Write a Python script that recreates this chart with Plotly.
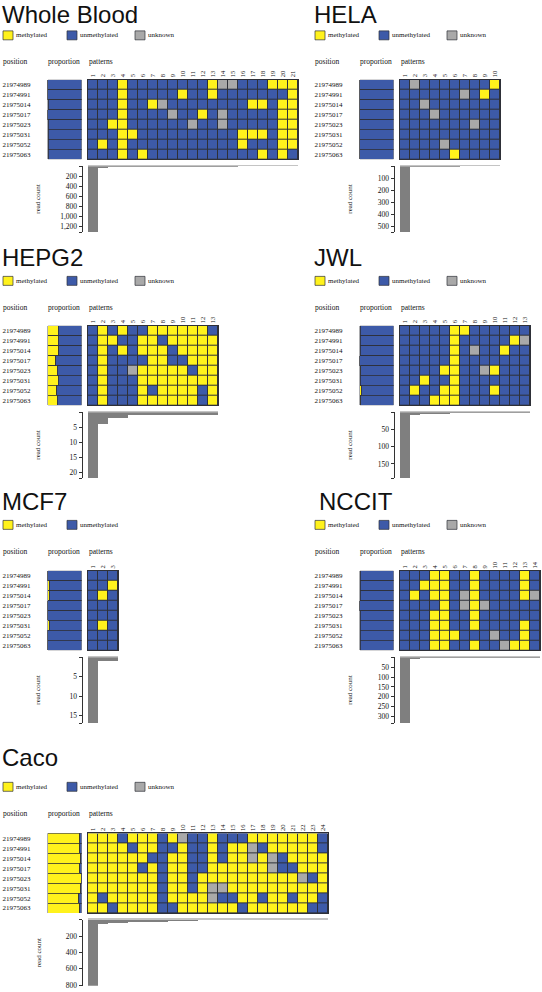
import plotly.graph_objects as go

W, H = 542, 992

positions = ["21974989", "21974991", "21975014", "21975017",
             "21975023", "21975031", "21975052", "21975063"]

# ---- data: pattern strings (Y = methylated, B = unmethylated, G = unknown),
# one string per CpG position, one character per pattern column
wb_patterns = ["BBBYBBBBBBBBYGGBBBYYY",
               "BBBYBBBBBYBBYBBBBBBBY",
               "BBBYBBYGBBBBBBBBYYBYY",
               "BBBYBBBBGBBYBGBBBBBYY",
               "BBYYBBBBBBGBBGBBBBBYY",
               "BBBYYBBBBBBBBBBYYYBYY",
               "BYBYBBBBBBBBBBBYBBBYY",
               "BBBYBYBBBBBBBBBBBYBYB"]
wb_counts = [1320, 30, 20, 10, 9, 8, 7, 6, 6, 5, 5, 5, 4, 4, 4, 3, 3, 3, 3, 3, 3]
wb_meth = [0.01, 0.01, 0.02, 0.01, 0.02, 0.02, 0.02, 0.02]
wb_ticks = [200, 400, 600, 800, 1000, 1200]

hela_patterns = ["BGBBBBBBBY",
                 "BBBBBBGBYB",
                 "BBGBBBBBBB",
                 "BBBGBBBBBB",
                 "BBBBBBBGBB",
                 "BBBBBBBBBB",
                 "BBBBGBBBBB",
                 "BBBBBYBBBB"]
hela_counts = [550, 3, 2, 2, 2, 2, 1, 1, 1, 1]
hela_meth = [0.003, 0.003, 0.0, 0.0, 0.0, 0.0, 0.0, 0.003]
hela_ticks = [100, 200, 300, 400, 500]

hepg2_patterns = ["BYBYBBYYYYYYB",
                  "BYYBBYYBYYYYY",
                  "BYBYBYYYBYYYY",
                  "BYBBBBYYBBYYY",
                  "BYBBGYYYYYBYY",
                  "BYBBBYYYYYYYY",
                  "BYBBBYBYYYYBY",
                  "BYBBBYYYYYYBY"]
hepg2_counts = [22, 4, 2, 2, 1, 1, 1, 1, 1, 1, 1, 1, 1]
hepg2_meth = [0.32, 0.32, 0.33, 0.24, 0.29, 0.32, 0.27, 0.29]
hepg2_ticks = [5, 10, 15, 20]

jwl_patterns = ["BBBBBYYBBBBBB",
                "BBBBBYBBBBBYG",
                "BBBBBYBGBBYBB",
                "BBBBBYBBBBBBB",
                "BBBBYYBBGYBBB",
                "BBYBBYBBBBBBB",
                "BYBBYYBBBYBBB",
                "BBBYYYBBBBBBB"]
jwl_counts = [191, 7, 6, 4, 4, 3, 2, 2, 2, 2, 1, 1, 1]
jwl_meth = [0.015, 0.02, 0.02, 0.01, 0.03, 0.025, 0.05, 0.03]
jwl_ticks = [50, 100, 150]

mcf7_patterns = ["BBB", "BBY", "BYB", "BBB", "BBB", "BYB", "BBB", "BBB"]
mcf7_counts = [17, 1, 1]
mcf7_meth = [0.0, 0.05, 0.05, 0.0, 0.0, 0.05, 0.0, 0.0]
mcf7_ticks = [5, 10, 15]

nccit_patterns = ["BBBYYBBYBBBBYB",
                  "BBYYYBBYBBBBYB",
                  "BYBYYBGYBBBBYG",
                  "BBBBYBGYGBBBBB",
                  "BBBYYBBYBBBBBB",
                  "BBBYYBBYBBBBYB",
                  "BBBYYYBBBGBBYB",
                  "BBBYYBBYBBGYYB"]
nccit_counts = [333, 6, 5, 5, 5, 4, 3, 2, 2, 2, 2, 2, 2, 2]
nccit_meth = [0.02, 0.02, 0.02, 0.01, 0.015, 0.015, 0.02, 0.02]
nccit_ticks = [50, 100, 150, 200, 250, 300]

caco_patterns = ["YYYBYYYBYGBBYBBBYYYYYYYB",
                 "YYYYBYYBBYBBYBYYGBYYYYYB",
                 "YYYYYYBBYYBBYBYYGYGBYYYY",
                 "YYYYYBYBYYBBYYYYYYGBBYYY",
                 "YYYYYYYBYYBYYYYYYYYYYGBY",
                 "YYYYYYYBYYBYGGYYYYYYYYYY",
                 "YBYYYYYBYYYYGBBYYBYYBYYB",
                 "YYBYYYYBBYYYYYYBYYYYYYBB"]
caco_counts = [808, 50, 38, 38, 30, 30, 25, 25, 10, 8, 7, 6, 6, 5, 5, 5, 4, 4, 4, 3, 3, 3, 3, 3]
caco_meth = [0.95, 0.95, 0.98, 0.95, 0.99, 0.98, 0.92, 0.95]
caco_ticks = [200, 400, 600, 800]

# ---- styling / geometry (pixels)
YELLOW, BLUE, GRAY = "#fff21c", "#3d5aa8", "#a9a9a9"
EDGE = "#2e3038"
BARGRAY = "#7f7f7f"
SERIF = "Liberation Serif"
SANS = "Liberation Sans"
CODE = {"B": 0, "Y": 1, "G": 2}

# ty = top of the title text box
panels = [
    dict(title="Whole Blood", pat=wb_patterns, counts=wb_counts, meth=wb_meth, ticks=wb_ticks,
         unknown=True, x0=0, top=80, tx=1, ty=0, ly=35.5, hy=61.5),
    dict(title="HELA", pat=hela_patterns, counts=hela_counts, meth=hela_meth, ticks=hela_ticks,
         unknown=True, x0=312, top=80, tx=1, ty=0, ly=35.5, hy=61.5),
    dict(title="HEPG2", pat=hepg2_patterns, counts=hepg2_counts, meth=hepg2_meth, ticks=hepg2_ticks,
         unknown=True, x0=0, top=327, tx=1, ty=244, ly=282, hy=308.5),
    dict(title="JWL", pat=jwl_patterns, counts=jwl_counts, meth=jwl_meth, ticks=jwl_ticks,
         unknown=True, x0=312, top=327, tx=1, ty=244, ly=282, hy=308.5),
    dict(title="MCF7", pat=mcf7_patterns, counts=mcf7_counts, meth=mcf7_meth, ticks=mcf7_ticks,
         unknown=False, x0=0, top=573, tx=1, ty=489, ly=527, hy=554),
    dict(title="NCCIT", pat=nccit_patterns, counts=nccit_counts, meth=nccit_meth, ticks=nccit_ticks,
         unknown=True, x0=312, top=573, tx=6, ty=489, ly=527, hy=554),
    dict(title="Caco", pat=caco_patterns, counts=caco_counts, meth=caco_meth, ticks=caco_ticks,
         unknown=True, x0=0, top=836.7, tx=1, ty=746, ly=790, hy=817),
]


def px(x):
    return x / W


def py(y):
    return 1 - y / H


fig = go.Figure()
layout = dict(width=W, height=H, margin=dict(l=0, r=0, t=0, b=0),
              paper_bgcolor="white", plot_bgcolor="white",
              barmode="stack", bargap=0, showlegend=False,
              annotations=[], shapes=[])


def axnames(k):
    return ("xaxis" if k == 1 else f"xaxis{k}", "yaxis" if k == 1 else f"yaxis{k}",
            "x" if k == 1 else f"x{k}", "y" if k == 1 else f"y{k}")


def txt(x, y, s, size, font=SERIF, xanchor="left", yanchor="middle", angle=0):
    layout["annotations"].append(dict(
        x=px(x), y=py(y), xref="paper", yref="paper", text=s, showarrow=False,
        xanchor=xanchor, yanchor=yanchor, textangle=angle, borderpad=0,
        font=dict(family=font, size=size, color="#111")))


for i, p in enumerate(panels):
    x0, top = p["x0"], p["top"]
    n = len(p["counts"])
    rows = list(range(8))
    gx0, gx1 = x0 + 88, x0 + 88 + 10 * n
    ydom = [py(top + 80), py(top)]

    # proportion subplot
    xa, ya, xr, yr = axnames(3 * i + 1)
    fig.add_trace(go.Bar(orientation="h", y=rows, x=p["meth"], xaxis=xr, yaxis=yr,
                         marker=dict(color=YELLOW, line=dict(color=EDGE, width=0.8))))
    fig.add_trace(go.Bar(orientation="h", y=rows, x=[1 - m for m in p["meth"]], xaxis=xr, yaxis=yr,
                         marker=dict(color=BLUE, line=dict(color=EDGE, width=0.8))))
    layout[xa] = dict(domain=[px(x0 + 47.5), px(x0 + 81.5)], range=[0, 1], anchor=yr,
                      visible=False, fixedrange=True)
    layout[ya] = dict(domain=ydom, range=[7.5, -0.5], anchor=xr, tickvals=rows, ticktext=positions,
                      ticks="", showgrid=False, zeroline=False, ticklabelstandoff=16,
                      tickfont=dict(family=SERIF, size=7, color="#111"))

    # pattern grid
    xa, ya, xr, yr = axnames(3 * i + 2)
    z = [[CODE[c] for c in r] for r in p["pat"]]
    fig.add_trace(go.Heatmap(z=z, x=list(range(1, n + 1)), y=rows, xaxis=xr, yaxis=yr,
                             colorscale=[[0, BLUE], [0.5, YELLOW], [1, GRAY]], zmin=0, zmax=2,
                             showscale=False, xgap=1, ygap=1, hoverinfo="skip"))
    layout[xa] = dict(domain=[px(gx0), px(gx1)], range=[0.5, n + 0.5], anchor=yr, side="top",
                      tickvals=list(range(1, n + 1)), ticktext=[str(v) for v in range(1, n + 1)],
                      tickangle=-90, ticks="", showgrid=False, zeroline=False,
                      showline=True, mirror=True, linecolor=EDGE, linewidth=1,
                      tickfont=dict(family=SERIF, size=6.5, color="#111"))
    layout[ya] = dict(domain=ydom, range=[7.5, -0.5], anchor=xr, showticklabels=False, ticks="",
                      showgrid=False, zeroline=False, showline=True, mirror=True,
                      linecolor=EDGE, linewidth=1)
    layout["shapes"].append(dict(type="rect", xref=xr, yref=yr, x0=0.5, x1=n + 0.5, y0=-0.5, y1=7.5,
                                 fillcolor=EDGE, line=dict(width=0), layer="below"))

    # read count subplot
    xa, ya, xr, yr = axnames(3 * i + 3)
    cmax = p["counts"][0]
    fig.add_trace(go.Bar(x=list(range(1, n + 1)), y=p["counts"], xaxis=xr, yaxis=yr,
                         marker=dict(color=BARGRAY, line=dict(width=0))))
    layout[xa] = dict(domain=[px(gx0), px(gx1)], range=[0.5, n + 0.5], anchor=yr, side="top",
                      showticklabels=False, ticks="", showgrid=False, zeroline=False,
                      showline=True, linecolor="#c4c4c4", linewidth=1.5)
    tv = [0] + p["ticks"] + [cmax]
    tt = [""] + [f"{v:,}" for v in p["ticks"]] + [""]
    layout[ya] = dict(domain=[py(top + 153), py(top + 87)], range=[cmax, 0], anchor="free",
                      position=px(x0 + 81.5), tickvals=tv, ticktext=tt, ticks="outside",
                      ticklen=3, tickwidth=1, tickcolor="#333", showline=True, linecolor="#333",
                      linewidth=1, showgrid=False, zeroline=False, ticklabeloverflow="allow",
                      tickfont=dict(family=SERIF, size=7.5, color="#111"))

    # texts
    txt(x0 + p["tx"], p["ty"], p["title"], 24, font=SANS, yanchor="top")
    legend_items = [("methylated", YELLOW, 3), ("unmethylated", BLUE, 67)]
    if p["unknown"]:
        legend_items.append(("unknown", GRAY, 135))
    for label, col, lx in legend_items:
        layout["shapes"].append(dict(type="rect", xref="paper", yref="paper",
                                     x0=px(x0 + lx), x1=px(x0 + lx + 10),
                                     y0=py(p["ly"] + 4.5), y1=py(p["ly"] - 4.5),
                                     fillcolor=col, line=dict(color=EDGE, width=0.7)))
        txt(x0 + lx + 12, p["ly"], label, 7)
    txt(x0 + 2, p["hy"], "position", 7.5)
    txt(x0 + 47, p["hy"], "proportion", 7.5)
    txt(x0 + 88, p["hy"], "patterns", 7.5)
    txt(x0 + 38.5, top + 120, "read count", 7, angle=-90, xanchor="center")

fig.update_layout(**layout)
fig.write_html("out.html", config={"displayModeBar": False, "staticPlot": True},
               post_script="document.body.style.margin='0px';document.body.style.padding='0px';")
